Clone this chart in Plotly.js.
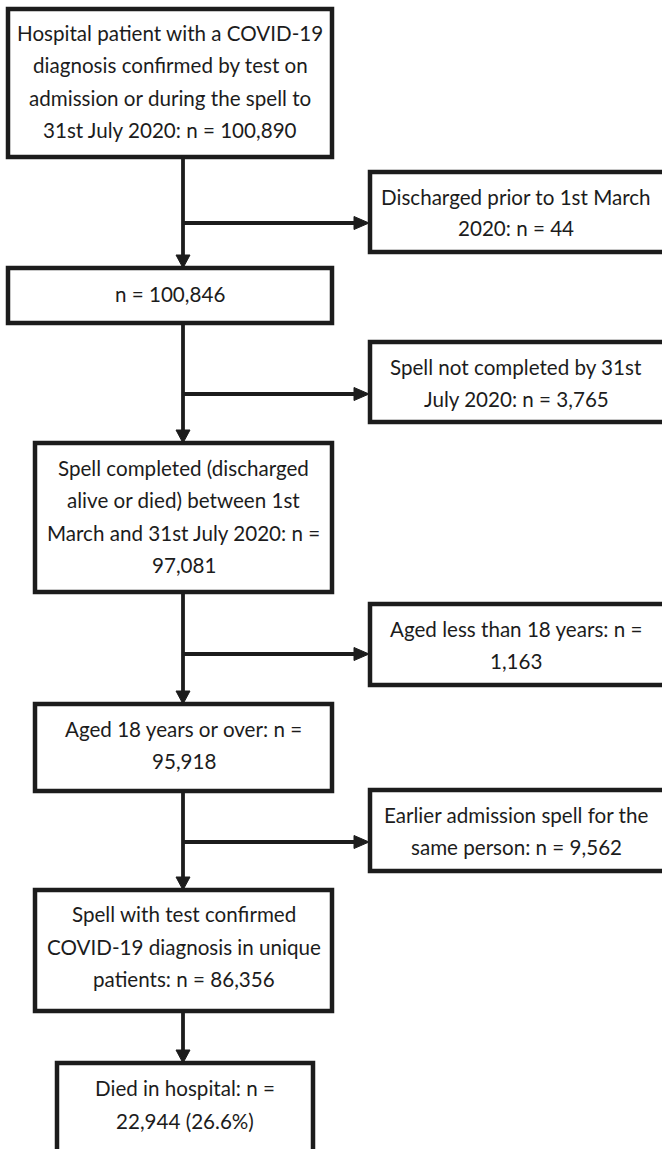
<!DOCTYPE html>
<html>
<head>
<meta charset="utf-8">
<script src="https://cdn.plot.ly/plotly-3.0.1.min.js"></script>
<style>html,body{margin:0;padding:0;background:#fff;}#chart{width:662px;height:1149px;}</style>
</head>
<body>
<div id="chart"></div>
<script>
// ---- data ----
var mainCounts = [100890, 100846, 97081, 95918, 86356, 22944];
var exclusionCounts = [44, 3765, 1163, 9562];
var mainLines = [
  ["Hospital patient with a COVID-19", "diagnosis confirmed by test on", "admission or during the spell to", "31st July 2020: n = {n}"],
  ["n = {n}"],
  ["Spell completed (discharged", "alive or died) between 1st", "March and 31st July 2020: n =", "{n}"],
  ["Aged 18 years or over: n =", "{n}"],
  ["Spell with test confirmed", "COVID-19 diagnosis in unique", "patients: n = {n}"],
  ["Died in hospital: n =", "{n} ({p})"]
];
var exclusionLines = [
  ["Discharged prior to 1st March", "2020: n = {n}"],
  ["Spell not completed by 31st", "July 2020: n = {n}"],
  ["Aged less than 18 years: n =", "{n}"],
  ["Earlier admission spell for the", "same person: n = {n}"]
];

// ---- layout geometry (pixels, y downward) ----
var geo = {
  spineX: 183,
  main: [
    {x0: 8,  x1: 332, y0: 9,    y1: 157,  lineY: [33, 65, 98, 130]},
    {x0: 8,  x1: 332, y0: 268,  y1: 323,  lineY: [294]},
    {x0: 35, x1: 332, y0: 443,  y1: 592,  lineY: [468, 500, 533, 565]},
    {x0: 35, x1: 332, y0: 704,  y1: 791,  lineY: [729, 761]},
    {x0: 35, x1: 332, y0: 890,  y1: 1011, lineY: [914, 947, 979]},
    {x0: 57, x1: 313, y0: 1063, y1: 1156, lineY: [1088, 1121]}
  ],
  excl: [
    {x0: 370, x1: 666, y0: 172, y1: 252, lineY: [197, 228], arrowY: 223},
    {x0: 370, x1: 666, y0: 342, y1: 422, lineY: [367, 399], arrowY: 394},
    {x0: 370, x1: 666, y0: 604, y1: 685, lineY: [629, 661], arrowY: 654},
    {x0: 370, x1: 666, y0: 790, y1: 871, lineY: [815, 847], arrowY: 842}
  ]
};

var ink = '#1c1c1c';
var fontFam = 'Lato, "Open Sans", sans-serif';
var fontSize = 20.6;
function fmt(v){ return v.toLocaleString('en-US'); }

var shapes = [], annotations = [];

function box(b){
  shapes.push({type:'rect', xref:'x', yref:'y', x0:b.x0, x1:b.x1, y0:b.y0, y1:b.y1,
    line:{color:ink, width:4.5}, fillcolor:'rgba(0,0,0,0)'});
}
function line(x0,y0,x1,y1){
  shapes.push({type:'line', xref:'x', yref:'y', x0:x0, y0:y0, x1:x1, y1:y1, line:{color:ink, width:3.8}});
}
function tri(path){
  shapes.push({type:'path', xref:'x', yref:'y', path:path, fillcolor:ink, line:{color:ink, width:1}});
}
function downArrow(x, yStart, yTip){
  line(x, yStart, x, yTip - 10);
  tri('M '+(x-7)+' '+(yTip-13)+' L '+(x+7)+' '+(yTip-13)+' L '+x+' '+yTip+' Z');
}
function rightArrow(xStart, xTip, y){
  line(xStart, y, xTip - 12, y);
  tri('M '+(xTip-15)+' '+(y-6.5)+' L '+(xTip-15)+' '+(y+6.5)+' L '+xTip+' '+y+' Z');
}
function texts(b, lines, n, p){
  var cx = (b.x0 + Math.min(b.x1, 662)) / 2;
  lines.forEach(function(t, i){
    var s = t.replace('{n}', fmt(n)).replace('{p}', p || '');
    annotations.push({x: cx, y: b.lineY[i], xref:'x', yref:'y', text: s, showarrow:false,
      xanchor:'center', yanchor:'middle', font:{family:fontFam, size:fontSize, color:ink}});
  });
}

var pct = (100 * mainCounts[5] / mainCounts[4]).toFixed(1) + '%';
geo.main.forEach(function(b, i){
  box(b);
  texts(b, mainLines[i], mainCounts[i], i === 5 ? pct : null);
  if (i > 0) downArrow(geo.spineX, geo.main[i-1].y1, b.y0);
});
geo.excl.forEach(function(b, i){
  box(b);
  texts(b, exclusionLines[i], exclusionCounts[i]);
  rightArrow(geo.spineX, b.x0 - 1, b.arrowY);
});

var layout = {
  width: 662, height: 1149,
  margin: {l:0, r:0, t:0, b:0},
  paper_bgcolor: '#ffffff', plot_bgcolor: '#ffffff',
  xaxis: {range:[0, 662], visible:false, fixedrange:true},
  yaxis: {range:[1149, 0], visible:false, fixedrange:true},
  shapes: shapes,
  annotations: annotations,
  showlegend: false
};
Plotly.newPlot('chart', [], layout, {displayModeBar:false, staticPlot:true});
</script>
</body>
</html>
